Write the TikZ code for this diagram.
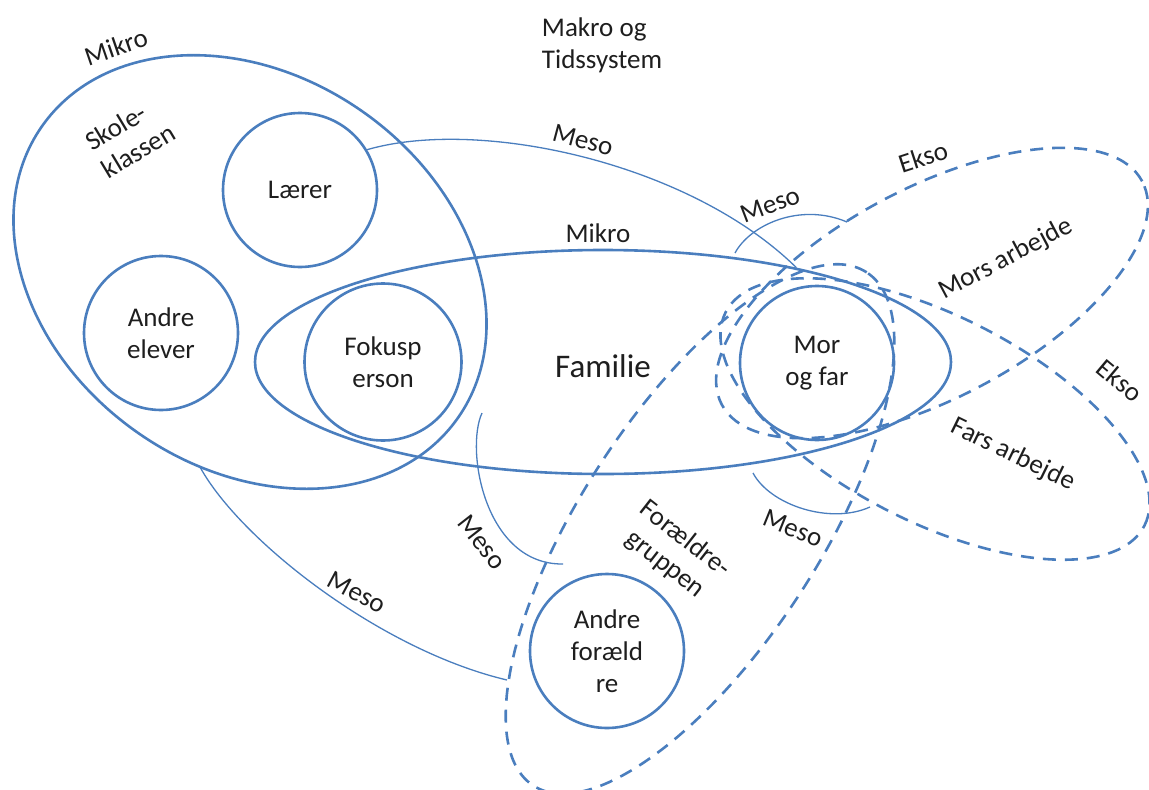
\documentclass[tikz,border=0pt]{standalone}
\usepackage{fontspec}
\setmainfont{Carlito}
\usetikzlibrary{shapes.geometric}
\definecolor{lineblue}{RGB}{74,126,190}
\definecolor{txt}{RGB}{30,30,30}
\begin{document}
\begin{tikzpicture}[x=1pt,y=-1pt,
  every node/.style={text=txt, font=\fontsize{27}{32}\selectfont},
  ring/.style={circle, draw=lineblue, line width=2.6pt, minimum size=154pt, inner sep=0pt, align=center},
  oval/.style={ellipse, draw=lineblue, line width=2.6pt, inner sep=0pt},
  dashoval/.style={ellipse, draw=lineblue, line width=2.6pt, inner sep=0pt, dash pattern=on 13pt off 9pt},
  link/.style={draw=lineblue, line width=1.3pt},
  lbl/.style={align=center, inner sep=0pt}]
\useasboundingbox (0,0) rectangle (1149,790);

% systems drawn as outlines
\node[oval, minimum width=508pt, minimum height=392pt, rotate=-35] (skole) at (250,272) {};
\node[oval, minimum width=696pt, minimum height=224pt] (familie) at (603,362) {};
\node[dashoval, minimum width=476pt, minimum height=210pt, rotate=28] (mors) at (932,293) {};
\node[dashoval, minimum width=470pt, minimum height=206pt, rotate=-27] (fars) at (935,419) {};
\node[dashoval, minimum width=612pt, minimum height=238pt, rotate=57] (foraeldre) at (700,529) {};

% persons
\node[ring] (laerer) at (300,190) {Lærer};
\node[ring] (elever) at (161,333) {Andre\\elever};
\node[ring, minimum size=157pt] (fokus) at (383,362) {Fokusp\\erson};
\node[ring] (morfar) at (817,363) {Mor\\og far};
\node[ring] (andref) at (607,651) {Andre\\foræld\\re};

% ends of the meso connections
\coordinate (ms1) at (735,253);
\coordinate (me1) at (847,222);
\coordinate (ms2) at (753,473);
\coordinate (me2) at (870,507);
\coordinate (ms3) at (482,413);
\coordinate (me3) at (563,564);
\coordinate (ms4) at (200,467);
\coordinate (me4) at (507,680);

% meso connections
\draw[link] (laerer.31) .. controls (480,117) and (690,163) .. (familie.26);
\draw[link] (ms1) .. controls (750,225) and (800,202) .. (me1);
\draw[link] (ms2) .. controls (770,505) and (830,525) .. (me2);
\draw[link] (ms3) .. controls (465,450) and (485,565) .. (me3);
\draw[link] (ms4) .. controls (240,540) and (380,650) .. (me4);

% labels
\node[lbl, align=left] (makro) at (602,45) {Makro og\\Tidssystem};
\node[lbl, rotate=19] (mikroA) at (116,47) {Mikro};
\node[lbl, rotate=31, align=left] (skoletxt) at (130,137) {Skole-\\klassen};
\node[lbl] (mikroB) at (598,233) {Mikro};
\node[lbl, font=\fontsize{33}{40}\selectfont] (famtxt) at (603,366) {Familie};
\node[lbl, rotate=-15] (mesoA) at (583,140) {Meso};
\node[lbl, rotate=21] (mesoB) at (770,205) {Meso};
\node[lbl, rotate=18] (eksoA) at (923,157) {Ekso};
\node[lbl, rotate=28] (morstxt) at (1006,259) {Mors arbejde};
\node[lbl, rotate=-40] (eksoB) at (1120,380) {Ekso};
\node[lbl, rotate=-26] (farstxt) at (1013,455) {Fars arbejde};
\node[lbl, rotate=-22] (mesoC) at (793,528) {Meso};
\node[lbl, rotate=-38] (gruppetxt) at (675,552) {Forældre-\\gruppen};
\node[lbl, rotate=-52] (mesoD) at (482,542) {Meso};
\node[lbl, rotate=-28] (mesoE) at (357,592) {Meso};
\end{tikzpicture}
\end{document}
